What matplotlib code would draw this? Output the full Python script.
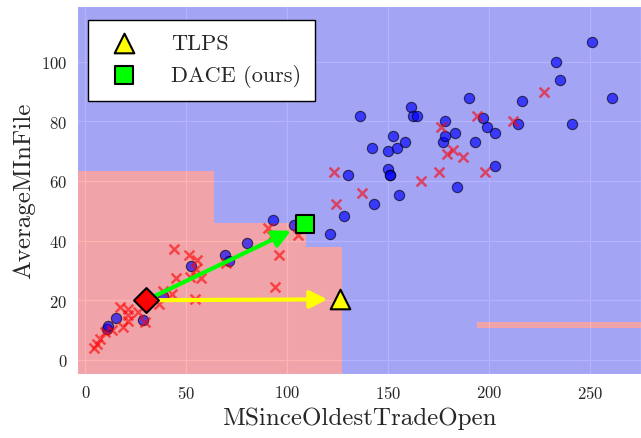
import numpy as np
import matplotlib
matplotlib.use("Agg")
import matplotlib.pyplot as plt
from matplotlib.colors import ListedColormap
import seaborn as sns

# Puntos de la clase positiva (circulos azules)
blue_x = [10.5, 11.3, 15.1, 28.3, 38.2, 52.2, 69.2, 71.2, 80.1, 93.1, 103.0, 121.0,
          128.1, 130.1, 136.0, 142.0, 143.0, 149.9, 149.9, 150.9, 150.9, 152.1, 154.1,
          155.1, 158.0, 161.0, 162.3, 163.9, 177.1, 178.0, 178.0, 182.9, 184.1, 190.0,
          192.8, 196.9, 198.9, 202.9, 202.9, 214.0, 215.9, 232.9, 234.9, 240.8, 250.9, 260.8]
blue_y = [10.4, 11.3, 14.2, 13.3, 21.4, 31.3, 35.2, 33.3, 39.2, 46.9, 45.3, 42.1,
          48.2, 62.0, 81.9, 71.0, 52.1, 70.0, 64.0, 62.0, 62.0, 75.0, 71.0,
          55.1, 73.0, 84.9, 81.9, 81.9, 73.0, 75.0, 80.0, 76.0, 58.1, 87.8,
          73.0, 81.0, 78.0, 76.0, 65.0, 78.9, 86.9, 99.8, 93.8, 78.9, 106.7, 87.8]

# Puntos de la clase negativa (cruces rojas)
red_x = [4.4, 5.5, 7.2, 9.7, 13.0, 18.7, 17.1, 21.2, 20.9, 20.9, 26.1, 29.5, 36.3,
         38.5, 42.9, 44.8, 51.7, 57.2, 54.6, 55.1, 51.2, 44.0, 54.2, 69.5, 90.2, 92.2,
         105.0, 96.0, 94.0, 123.0, 124.0, 136.9, 165.9, 175.0, 176.0, 178.8, 181.8,
         187.0, 194.0, 197.8, 211.8, 226.8]
red_y = [4.0, 5.4, 7.1, 9.3, 10.0, 11.0, 17.7, 16.9, 14.9, 12.9, 16.2, 12.7, 18.6,
         23.2, 22.1, 27.5, 27.7, 27.4, 30.5, 33.5, 35.0, 37.2, 20.5, 32.5, 44.2, 41.5,
         42.0, 35.2, 24.4, 63.1, 52.1, 56.1, 60.1, 63.1, 78.0, 69.0, 70.2,
         67.9, 81.9, 62.9, 79.9, 89.9]

# Instancia original y contrafactuales
query = (30.0, 20.0)
tlps = (126.0, 20.3)
dace = (108.6, 45.5)

# Regiones de decision del arbol: (x_min, x_max, y_min, y_max) de la clase negativa
red_boxes = [(-10, 63.6, -10, 63.4),
             (63.6, 108.6, -10, 45.8),
             (108.6, 126.8, -10, 37.8),
             (193.7, 300, 10.8, 12.7)]

xlim = (-4.2, 275)
ylim = (-4.7, 118.6)

sns.set_style("darkgrid")
plt.rcParams['font.family'] = 'serif'
plt.rcParams['font.serif'] = ['cmr10', 'DejaVu Serif']
plt.rcParams['axes.formatter.use_mathtext'] = True

fig = plt.figure(figsize=(6.41, 4.39), dpi=100)
ax = fig.add_axes([0.120, 0.146, 0.880, 0.838])

# Malla para pintar las regiones
xx, yy = np.meshgrid(np.linspace(xlim[0], xlim[1], 1100), np.linspace(ylim[0], ylim[1], 800))
zz = np.ones_like(xx)
for x0, x1, y0, y1 in red_boxes:
    zz[(xx >= x0) & (xx < x1) & (yy >= y0) & (yy < y1)] = 0
ax.imshow(zz, extent=(xlim[0], xlim[1], ylim[0], ylim[1]), origin='lower', aspect='auto',
          cmap=ListedColormap(['red', 'blue']), alpha=0.3, interpolation='nearest', zorder=1)

ax.scatter(blue_x, blue_y, s=55, c='blue', alpha=0.65, edgecolors='k', linewidths=0.8, zorder=3)
ax.scatter(red_x, red_y, s=50, c='red', alpha=0.6, marker='x', linewidths=1.8, zorder=3)

# Flechas hacia los contrafactuales
ax.annotate('', xy=tlps, xytext=query, zorder=4,
            arrowprops=dict(arrowstyle='-|>', color='yellow', lw=3, mutation_scale=26,
                            shrinkA=0, shrinkB=9))
ax.annotate('', xy=dace, xytext=query, zorder=4,
            arrowprops=dict(arrowstyle='-|>', color='lime', lw=3, mutation_scale=26,
                            shrinkA=0, shrinkB=11))

ax.scatter(*query, s=160, c='red', marker='D', edgecolors='k', linewidths=1.5, zorder=5)
ax.scatter(*tlps, s=200, c='yellow', marker='^', edgecolors='k', linewidths=1.5, zorder=5, label='TLPS')
ax.scatter(*dace, s=150, c='lime', marker='s', edgecolors='k', linewidths=1.5, zorder=5, label='DACE (ours)')

ax.set_xlim(xlim)
ax.set_ylim(ylim)
ax.set_xticks([0, 50, 100, 150, 200, 250])
ax.set_yticks([0, 20, 40, 60, 80, 100])
ax.tick_params(labelsize=12)
ax.set_xlabel('MSinceOldestTradeOpen', fontsize=18)
ax.set_ylabel('AverageMInFile', fontsize=18)

leg = ax.legend(loc='upper left', bbox_to_anchor=(0.020, 0.963), borderaxespad=0,
                fontsize=16, fancybox=False, framealpha=1, facecolor='white',
                edgecolor='k', handletextpad=1.1, borderpad=0.62)
leg.get_frame().set_linewidth(1)

plt.savefig('out.png', dpi=100)
